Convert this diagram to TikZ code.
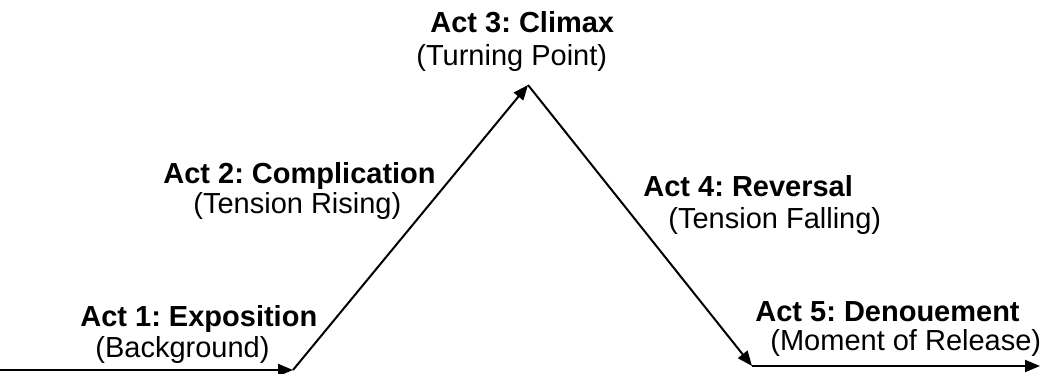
\documentclass[tikz,border=0pt]{standalone}
\usepackage{fontspec}
\setmainfont{Liberation Sans}
\frenchspacing
\usetikzlibrary{arrows.meta,positioning}
\tikzset{
  plotline/.style={line width=1pt, -{Triangle[length=7.5pt,width=6pt]}},
  act/.style={anchor=base west, inner sep=0pt, font=\fontsize{14.5}{17}\selectfont\bfseries},
  note/.style={anchor=base west, inner sep=0pt, font=\fontsize{14.5}{17}\selectfont},
}
\begin{document}
\begin{tikzpicture}[x=0.5pt,y=-0.5pt]
        \useasboundingbox (0,0) rectangle (1042,374);
        % points of the plot line
        \coordinate (start) at (0,370);
        \coordinate (rise) at (293,370);
        \coordinate (peak) at (528,85);
        \coordinate (fall) at (752,366);
        \coordinate (end) at (1040,366);
        \draw[plotline] (start) -- (rise);
        \draw[plotline] (rise) -- (peak);
        \draw[plotline] (peak) -- (fall);
        \draw[plotline] (fall) -- (end);
        % labels
        \node[act] (act1) at (80,326) {Act 1: Exposition};
        \node[note] (background) at (95,357) {(Background)};
        \node[act] (act2) at (163,183) {Act 2: Complication};
        \node[note] (rising) at (193,213) {(Tension Rising)};
        \node[act] (act3) at (430,33) {Act 3: Climax};
        \node[note] (turning) at (416,66) {(Turning Point)};
        \node[act] (act4) at (643,196) {Act 4: Reversal};
        \node[note] (falling) at (668,228) {(Tension Falling)};
        \node[act] (act5) at (755,321) {Act 5: Denouement};
        \node[note] (release) at (770,350) {(Moment of Release)};
\end{tikzpicture}
\end{document}
